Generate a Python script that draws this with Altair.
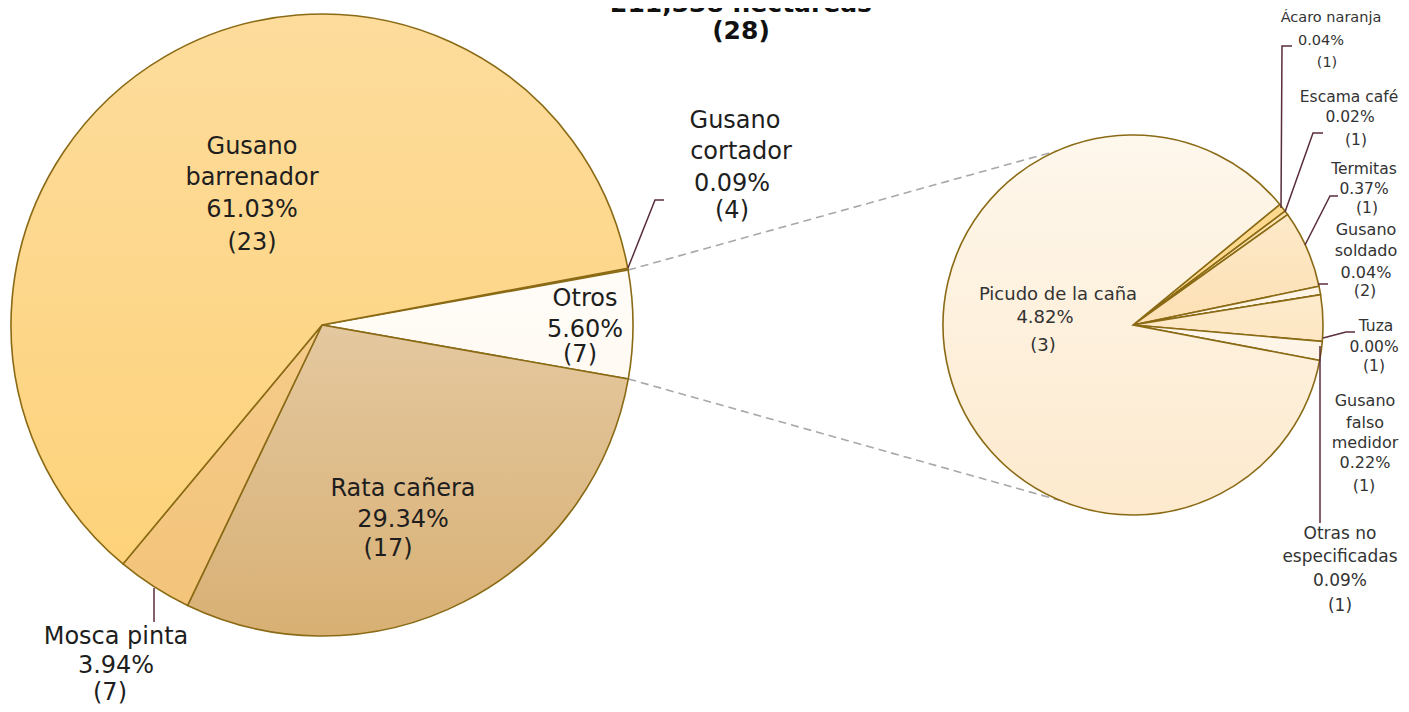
import math
import altair as alt
import pandas as pd

# ---------------- data ----------------
title_lines = ["211,338 hectáreas", "(28)"]

main_names = ["Gusano cortador", "Otros", "Rata cañera", "Mosca pinta", "Gusano barrenador"]
main_pct = [0.09, 5.60, 29.34, 3.94, 61.03]
main_counts = [4, 7, 17, 7, 23]

sub_names = ["Ácaro naranja", "Escama café", "Termitas", "Gusano soldado", "Tuza",
             "Gusano falso medidor", "Otras no especificadas", "Picudo de la caña"]
sub_pct = [0.04, 0.02, 0.37, 0.04, 0.00, 0.22, 0.09, 4.82]
sub_counts = [1, 1, 1, 2, 1, 1, 1, 3]

# ---------------- styles / layout ----------------
W, H = 1393, 696
OFF = 8
FONT = "DejaVu Sans"
STROKE = "#8a6a14"
LEADER = "#5a2d3c"
TXT = "#1e1e1e"
TXT2 = "#333333"


def grad(top, bottom):
    return alt.Gradient(
        gradient="linear", x1=0, x2=0, y1=0, y2=1,
        stops=[alt.GradientStop(color=top, offset=0), alt.GradientStop(color=bottom, offset=1)],
    )


main_fills = {
    "Gusano cortador": grad("#fdd98f", "#fdd98f"),
    "Otros": grad("#fffcf8", "#fffaf2"),
    "Rata cañera": grad("#e4c89f", "#d8b074"),
    "Mosca pinta": grad("#f5cb8a", "#f3c47a"),
    "Gusano barrenador": grad("#fddc9c", "#fdd27a"),
}
sub_fills = {
    "Ácaro naranja": grad("#fdd98f", "#fdd98f"),
    "Escama café": grad("#fde3b0", "#fde3b0"),
    "Termitas": grad("#fde9c9", "#fde0b4"),
    "Gusano soldado": grad("#fef4e6", "#fef4e6"),
    "Tuza": grad("#fde8c4", "#fde8c4"),
    "Gusano falso medidor": grad("#fdebcd", "#fde6c2"),
    "Otras no especificadas": grad("#fef6ec", "#fef4e6"),
    "Picudo de la caña": grad("#fef7ec", "#fdeace"),
}

MAIN_C = (322 - OFF, 325 - OFF)
MAIN_R = 311
SUB_C = (1133 - OFF, 325 - OFF)
SUB_R = 190
MAIN_START = 79.5
SUB_START = 50.6

xs = alt.Scale(domain=[0, W], range=[0, W])
ys = alt.Scale(domain=[0, H], range=[0, H])


def pie_layers(names, pct, fills, center, r, start_deg):
    df = pd.DataFrame({"name": names, "pct": pct, "idx": list(range(len(names)))})
    total = float(sum(pct))
    a0 = math.radians(start_deg)
    tscale = alt.Scale(domain=[0, total], range=[a0, a0 + 2 * math.pi])
    layers = []
    for nm in names:
        lyr = (
            alt.Chart(df)
            .transform_window(cum="sum(pct)", sort=[alt.SortField("idx")], frame=[None, 0])
            .transform_calculate(st="datum.cum - datum.pct")
            .transform_filter(alt.datum.name == nm)
            .mark_arc(radius=r, fill=fills[nm], stroke=STROKE, strokeWidth=1.6)
            .encode(
                theta=alt.Theta("st:Q", scale=tscale, stack=None),
                theta2=alt.Theta2("cum:Q"),
                x=alt.value(center[0]),
                y=alt.value(center[1]),
            )
        )
        layers.append(lyr)
    return layers


# dashed connectors: from edges of "Otros" slice to the sub pie
o_i = main_names.index("Otros")
o_start = MAIN_START + sum(main_pct[:o_i]) / sum(main_pct) * 360
o_end = o_start + main_pct[o_i] / sum(main_pct) * 360


def on_circle(c, r, deg):
    t = math.radians(deg)
    return (c[0] + r * math.sin(t), c[1] - r * math.cos(t))


p1 = on_circle(MAIN_C, MAIN_R, o_start)
p2 = on_circle(MAIN_C, MAIN_R, o_end)
q1 = on_circle(SUB_C, SUB_R, 336.5)
q2 = on_circle(SUB_C, SUB_R, 202.6)
dash_df = pd.DataFrame({
    "grp": [0, 0, 1, 1], "seq": [0, 1, 0, 1],
    "x": [p1[0], q1[0], p2[0], q2[0]], "y": [p1[1], q1[1], p2[1], q2[1]],
})

# leader lines (image coords)
leaders_img = {
    "Gusano cortador": [(628, 268), (655, 200), (664, 200)],
    "Mosca pinta": [(154, 588), (154, 622)],
    "Ácaro naranja": [(1281, 208), (1282, 46), (1292, 46)],
    "Escama café": [(1285, 212), (1313, 133), (1323, 133)],
    "Termitas": [(1305, 245), (1330, 196), (1338, 196)],
    "Gusano soldado": [(1318, 284), (1328, 284)],
    "Tuza": [(1323, 338), (1346, 332), (1355, 332)],
    "Otras no especificadas": [(1320, 346), (1320, 523)],
}
rows = []
for g, (nm, pts) in enumerate(leaders_img.items()):
    for s, (x, y) in enumerate(pts):
        rows.append({"grp": g, "seq": s, "x": x - OFF, "y": y - OFF})
lead_df = pd.DataFrame(rows)

# label line splits and positions (image coords) + font size
splits = {
    "Gusano barrenador": ["Gusano", "barrenador"],
    "Gusano cortador": ["Gusano", "cortador"],
    "Gusano soldado": ["Gusano", "soldado"],
    "Gusano falso medidor": ["Gusano", "falso", "medidor"],
    "Otras no especificadas": ["Otras no", "especificadas"],
}
label_pos = {
    "Gusano barrenador": ([(252, 147), (252, 178), (252, 210), (252, 243)], 24, TXT),
    "Rata cañera": ([(403, 489), (403, 520), (388, 549)], 24, TXT),
    "Otros": ([(585, 299), (585, 330), (580, 355)], 24, TXT),
    "Mosca pinta": ([(116, 637), (116, 666), (110, 693)], 24, TXT),
    "Gusano cortador": ([(735, 121), (741, 152), (732, 184), (732, 211)], 24, TXT),
    "Picudo de la caña": ([(1058, 295), (1045, 318), (1043, 346)], 18, TXT2),
    "Ácaro naranja": ([(1331, 18), (1321, 41), (1327, 63)], 14.5, TXT2),
    "Escama café": ([(1349, 97), (1350, 117), (1356, 140)], 15.5, TXT2),
    "Termitas": ([(1364, 169), (1364, 189), (1367, 208)], 15.5, TXT2),
    "Gusano soldado": ([(1366, 230), (1366, 251), (1366, 273), (1365, 291)], 16, TXT2),
    "Tuza": ([(1376, 326), (1374, 347), (1374, 366)], 15.5, TXT2),
    "Gusano falso medidor": ([(1365, 401), (1365, 423), (1365, 443), (1365, 463), (1364, 486)], 16, TXT2),
    "Otras no especificadas": ([(1340, 534), (1340, 557), (1340, 581), (1340, 606)], 17, TXT2),
}

trows = []
for names, pcts, counts in ((main_names, main_pct, main_counts), (sub_names, sub_pct, sub_counts)):
    for nm, p, c in zip(names, pcts, counts):
        lines = splits.get(nm, [nm]) + [f"{p:.2f}%", f"({c})"]
        pos, fs, col = label_pos[nm]
        for ln, (x, y) in zip(lines, pos):
            trows.append({"text": ln, "x": x - OFF, "y": y - OFF, "fs": fs, "col": col})
text_df = pd.DataFrame(trows)

title_df = pd.DataFrame({"text": title_lines, "x": [741 - OFF, 741 - OFF], "y": [12 - OFF, 39 - OFF]})

# ---------------- chart ----------------
dash = alt.Chart(dash_df).mark_line(color="#a8a8a8", strokeWidth=1.6, strokeDash=[8, 5]).encode(
    x=alt.X("x:Q", scale=xs, axis=None),
    y=alt.Y("y:Q", scale=ys, axis=None),
    detail="grp:N",
    order="seq:Q",
)
leads = alt.Chart(lead_df).mark_line(color=LEADER, strokeWidth=1.5).encode(
    x=alt.X("x:Q", scale=xs, axis=None),
    y=alt.Y("y:Q", scale=ys, axis=None),
    detail="grp:N",
    order="seq:Q",
)
labels = alt.Chart(text_df).mark_text(font=FONT, align="center", baseline="middle").encode(
    x=alt.X("x:Q", scale=xs, axis=None),
    y=alt.Y("y:Q", scale=ys, axis=None),
    text="text:N",
    size=alt.Size("fs:Q", scale=None),
    color=alt.Color("col:N", scale=None),
)
title = alt.Chart(title_df).mark_text(
    font=FONT, fontWeight="bold", fontSize=25, align="center", baseline="alphabetic", color="#111111"
).encode(
    x=alt.X("x:Q", scale=xs, axis=None),
    y=alt.Y("y:Q", scale=ys, axis=None),
    text="text:N",
)

layers = (
    [dash]
    + pie_layers(main_names, main_pct, main_fills, MAIN_C, MAIN_R, MAIN_START)
    + pie_layers(sub_names, sub_pct, sub_fills, SUB_C, SUB_R, SUB_START)
    + [leads, labels, title]
)

chart = (
    alt.layer(*layers)
    .resolve_scale(theta="independent")
    .properties(width=W, height=H, padding=0, autosize="none", background="white")
    .configure_view(stroke=None)
)

chart.save("out.html", embed_options={"renderer": "svg", "actions": False})
